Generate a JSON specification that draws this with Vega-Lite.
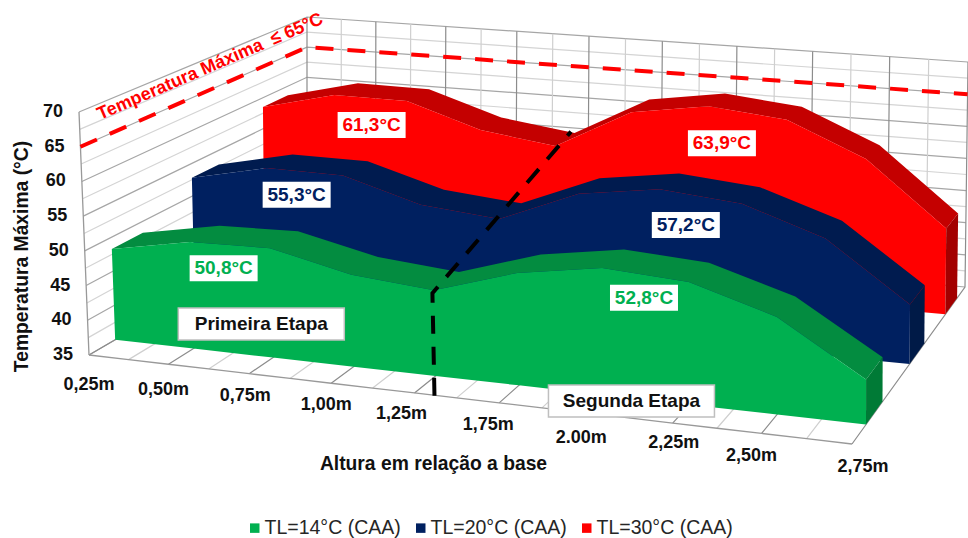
{
  "$schema": "https://vega.github.io/schema/vega-lite/v6.json",
  "width": 968,
  "height": 538,
  "padding": 0,
  "autosize": "none",
  "background": "white",
  "config": {"view": {"stroke": null}, "text": {"font": "Liberation Sans"}},
  "datasets": {
    "temperaturas": [
      {"altura": "0,25m", "i": 0, "serie": "TL=30°C (CAA)", "temp": 58.5},
      {"altura": "0,50m", "i": 1, "serie": "TL=30°C (CAA)", "temp": 61.3},
      {"altura": "0,75m", "i": 2, "serie": "TL=30°C (CAA)", "temp": 61.2},
      {"altura": "1,00m", "i": 3, "serie": "TL=30°C (CAA)", "temp": 57.5},
      {"altura": "1,25m", "i": 4, "serie": "TL=30°C (CAA)", "temp": 55.9},
      {"altura": "1,75m", "i": 5, "serie": "TL=30°C (CAA)", "temp": 62.1},
      {"altura": "2.00m", "i": 6, "serie": "TL=30°C (CAA)", "temp": 63.9},
      {"altura": "2,25m", "i": 7, "serie": "TL=30°C (CAA)", "temp": 62.7},
      {"altura": "2,50m", "i": 8, "serie": "TL=30°C (CAA)", "temp": 57.6},
      {"altura": "2,75m", "i": 9, "serie": "TL=30°C (CAA)", "temp": 48.0},
      {"altura": "0,25m", "i": 0, "serie": "TL=20°C (CAA)", "temp": 52.8},
      {"altura": "0,50m", "i": 1, "serie": "TL=20°C (CAA)", "temp": 55.3},
      {"altura": "0,75m", "i": 2, "serie": "TL=20°C (CAA)", "temp": 55.2},
      {"altura": "1,00m", "i": 3, "serie": "TL=20°C (CAA)", "temp": 51.8},
      {"altura": "1,25m", "i": 4, "serie": "TL=20°C (CAA)", "temp": 50.7},
      {"altura": "1,75m", "i": 5, "serie": "TL=20°C (CAA)", "temp": 55.5},
      {"altura": "2.00m", "i": 6, "serie": "TL=20°C (CAA)", "temp": 57.2},
      {"altura": "2,25m", "i": 7, "serie": "TL=20°C (CAA)", "temp": 56.1},
      {"altura": "2,50m", "i": 8, "serie": "TL=20°C (CAA)", "temp": 52.1},
      {"altura": "2,75m", "i": 9, "serie": "TL=20°C (CAA)", "temp": 43.6},
      {"altura": "0,25m", "i": 0, "serie": "TL=14°C (CAA)", "temp": 48.3},
      {"altura": "0,50m", "i": 1, "serie": "TL=14°C (CAA)", "temp": 50.5},
      {"altura": "0,75m", "i": 2, "serie": "TL=14°C (CAA)", "temp": 50.8},
      {"altura": "1,00m", "i": 3, "serie": "TL=14°C (CAA)", "temp": 48.2},
      {"altura": "1,25m", "i": 4, "serie": "TL=14°C (CAA)", "temp": 47.2},
      {"altura": "1,75m", "i": 5, "serie": "TL=14°C (CAA)", "temp": 50.9},
      {"altura": "2.00m", "i": 6, "serie": "TL=14°C (CAA)", "temp": 52.8},
      {"altura": "2,25m", "i": 7, "serie": "TL=14°C (CAA)", "temp": 52.1},
      {"altura": "2,50m", "i": 8, "serie": "TL=14°C (CAA)", "temp": 48.5},
      {"altura": "2,75m", "i": 9, "serie": "TL=14°C (CAA)", "temp": 41.2}
    ],
    "niveis": [
      {"nivel": 35}, {"nivel": 37.5}, {"nivel": 40}, {"nivel": 42.5}, {"nivel": 45}, {"nivel": 47.5}, {"nivel": 50}, {"nivel": 52.5},
      {"nivel": 55}, {"nivel": 57.5}, {"nivel": 60}, {"nivel": 62.5}, {"nivel": 65}, {"nivel": 67.5}, {"nivel": 70}
    ],
    "divisoes": [
      {"k": 0}, {"k": 1}, {"k": 2}, {"k": 3}, {"k": 4}, {"k": 5}, {"k": 6}, {"k": 7}, {"k": 8}, {"k": 9},
      {"k": 10}, {"k": 11}, {"k": 12}, {"k": 13}, {"k": 14}, {"k": 15}, {"k": 16}, {"k": 17}, {"k": 18}
    ],
    "valores": [
      {"texto": "61,3°C", "cor": "#FF0000", "u": 0.156, "v": 0.815, "temp": 56.8},
      {"texto": "63,9°C", "cor": "#FF0000", "u": 0.671, "v": 0.815, "temp": 58.4},
      {"texto": "55,3°C", "cor": "#002060", "u": 0.143, "v": 0.495, "temp": 51.5},
      {"texto": "57,2°C", "cor": "#002060", "u": 0.688, "v": 0.495, "temp": 52.4},
      {"texto": "50,8°C", "cor": "#00B050", "u": 0.148, "v": 0.12, "temp": 47.2},
      {"texto": "52,8°C", "cor": "#00B050", "u": 0.706, "v": 0.12, "temp": 49.3}
    ],
    "etapas": [
      {"texto": "Primeira Etapa", "u": 0.196, "v": 0.12, "temp": 39.7},
      {"texto": "Segunda Etapa", "u": 0.688, "v": 0.12, "temp": 34.66}
    ],
    "transicao": [
      {"ordem": 0, "u": 0.425, "v": 0.12, "temp": 32.2},
      {"ordem": 1, "u": 0.425, "v": 0.12, "temp": 46.8},
      {"ordem": 2, "u": 0.419, "v": 0.93, "temp": 55.9}
    ],
    "limite": [
      {"texto": "Temperatura Máxima  ≤ 65°C", "u": 0, "v": 0.575, "temp": 68.5}
    ]
  },
  "encoding": {
    "x": {"field": "px", "type": "quantitative", "scale": {"domain": [0, 968], "nice": false, "zero": false},
      "axis": {"title": "Altura em relação a base", "domain": false, "ticks": false, "labels": false, "grid": false, "titleX": 433, "titleY": -75, "titleFont": "Liberation Sans", "titleFontSize": 19.3, "titleFontWeight": "bold", "titleColor": "#111111", "titleAlign": "center", "titleBaseline": "middle"}},
    "y": {"field": "py", "type": "quantitative", "scale": {"domain": [538, 0], "nice": false, "zero": false},
      "axis": {"title": "Temperatura Máxima (°C)", "domain": false, "ticks": false, "labels": false, "grid": false, "titleX": 21, "titleY": 256, "titleAngle": -90, "titleFont": "Liberation Sans", "titleFontSize": 19.3, "titleFontWeight": "bold", "titleColor": "#111111", "titleAlign": "center", "titleBaseline": "middle"}}
  },
  "layer": [
    {
      "description": "Grade das paredes do fundo e da esquerda, a cada 2,5 graus",
      "data": {"name": "niveis"},
      "transform": [
        {"calculate": "[{ord:0,u:0,v:0},{ord:1,u:0,v:1},{ord:2,u:1,v:1}]", "as": "pts"},
        {"flatten": ["pts"]},
        {"calculate": "datum.pts.ord", "as": "ord"},
        {"calculate": "datum.pts.u", "as": "u"},
        {"calculate": "datum.pts.v", "as": "v"},
        {"calculate": "(datum.nivel-35)/35", "as": "z"},
        {"calculate": "(1-datum.z)*((1-datum.v)*((1-datum.u)*89+datum.u*852)+datum.v*((1-datum.u)*307+datum.u*965))+datum.z*((1-datum.v)*((1-datum.u)*79+datum.u*852)+datum.v*((1-datum.u)*307+datum.u*968))", "as": "px"},
        {"calculate": "(1-datum.z)*((1-datum.v)*((1-datum.u)*355+datum.u*444)+datum.v*((1-datum.u)*228+datum.u*287))+datum.z*((1-datum.v)*((1-datum.u)*112+datum.u*185)+datum.v*((1-datum.u)*17+datum.u*62))", "as": "py"},
        {"calculate": "datum.nivel%5==0?'#a6a6a6':'#d4d4d4'", "as": "traco"}
      ],
      "mark": {"type": "line", "strokeWidth": 1.2},
      "encoding": {
        "detail": {"field": "nivel"},
        "order": {"field": "ord"},
        "stroke": {"field": "traco", "type": "nominal", "scale": null}
      }
    },
    {
      "description": "Divisoes do piso e verticais da parede do fundo",
      "data": {"name": "divisoes"},
      "transform": [
        {"calculate": "datum.k/18", "as": "t"},
        {"calculate": "datum.t*0.93/(1-0.07*datum.t)", "as": "u"},
        {"calculate": "[{ord:0,v:0,z:0},{ord:1,v:1,z:0},{ord:2,v:1,z:1}]", "as": "pts"},
        {"flatten": ["pts"]},
        {"calculate": "datum.pts.ord", "as": "ord"},
        {"calculate": "datum.pts.v", "as": "v"},
        {"calculate": "datum.pts.z", "as": "z"},
        {"calculate": "(1-datum.z)*((1-datum.v)*((1-datum.u)*89+datum.u*852)+datum.v*((1-datum.u)*307+datum.u*965))+datum.z*((1-datum.v)*((1-datum.u)*79+datum.u*852)+datum.v*((1-datum.u)*307+datum.u*968))", "as": "px"},
        {"calculate": "(1-datum.z)*((1-datum.v)*((1-datum.u)*355+datum.u*444)+datum.v*((1-datum.u)*228+datum.u*287))+datum.z*((1-datum.v)*((1-datum.u)*112+datum.u*185)+datum.v*((1-datum.u)*17+datum.u*62))", "as": "py"},
        {"calculate": "datum.k%2==0?'#8c8c8c':'#cfcfcf'", "as": "traco"}
      ],
      "mark": {"type": "line", "strokeWidth": 1.2},
      "encoding": {
        "detail": {"field": "k"},
        "order": {"field": "ord"},
        "stroke": {"field": "traco", "type": "nominal", "scale": null}
      }
    },
    {
      "description": "Aresta frontal do piso",
      "data": {"name": "divisoes"},
      "transform": [
        {"calculate": "datum.k/18", "as": "t"},
        {"calculate": "datum.t*0.93/(1-0.07*datum.t)", "as": "u"},
        {"calculate": "89+763*datum.u", "as": "px"},
        {"calculate": "355+89*datum.u", "as": "py"}
      ],
      "mark": {"type": "line", "stroke": "#999999", "strokeWidth": 1.3},
      "encoding": {"order": {"field": "k"}}
    },
    {
      "description": "Aresta vertical do eixo de temperatura",
      "data": {"name": "niveis"},
      "transform": [
        {"calculate": "(datum.nivel-35)/35", "as": "z"},
        {"calculate": "89-10*datum.z", "as": "px"},
        {"calculate": "355-243*datum.z", "as": "py"}
      ],
      "mark": {"type": "line", "stroke": "#999999", "strokeWidth": 1.3},
      "encoding": {"order": {"field": "nivel"}}
    },
    {
      "description": "Linha do limite de 65 graus",
      "data": {"name": "niveis"},
      "transform": [
        {"filter": "datum.nivel==65"},
        {"calculate": "[{ord:0,u:0,v:0},{ord:1,u:0,v:1},{ord:2,u:1,v:1}]", "as": "pts"},
        {"flatten": ["pts"]},
        {"calculate": "datum.pts.ord", "as": "ord"},
        {"calculate": "datum.pts.u", "as": "u"},
        {"calculate": "datum.pts.v", "as": "v"},
        {"calculate": "(datum.nivel-35)/35", "as": "z"},
        {"calculate": "(1-datum.z)*((1-datum.v)*((1-datum.u)*89+datum.u*852)+datum.v*((1-datum.u)*307+datum.u*965))+datum.z*((1-datum.v)*((1-datum.u)*79+datum.u*852)+datum.v*((1-datum.u)*307+datum.u*968))", "as": "px"},
        {"calculate": "(1-datum.z)*((1-datum.v)*((1-datum.u)*355+datum.u*444)+datum.v*((1-datum.u)*228+datum.u*287))+datum.z*((1-datum.v)*((1-datum.u)*112+datum.u*185)+datum.v*((1-datum.u)*17+datum.u*62))", "as": "py"}
      ],
      "mark": {"type": "line", "stroke": "#FF0000", "strokeWidth": 4, "strokeDash": [18, 14]},
      "encoding": {"order": {"field": "ord"}}
    },
    {
      "description": "Faixas tridimensionais: topo, frente e lateral de cada serie, do fundo para a frente",
      "data": {"name": "temperaturas"},
      "transform": [
        {"calculate": "datum.i/9", "as": "t"},
        {"calculate": "datum.t*0.93/(1-0.07*datum.t)", "as": "u"},
        {"calculate": "(datum.temp-35)/35", "as": "zt"},
        {"calculate": "datum.serie=='TL=30°C (CAA)'?0.804+0.022*datum.u:datum.serie=='TL=20°C (CAA)'?0.484+0.026*datum.u:0.12+0.004*datum.u", "as": "vf"},
        {"calculate": "datum.serie=='TL=30°C (CAA)'?0.915+0.015*datum.u:datum.serie=='TL=20°C (CAA)'?0.605+0.035*datum.u:0.26+0.01*datum.u", "as": "vb"},
        {"calculate": "[{face:' topo',ord:datum.i,v:datum.vf,z:datum.zt},{face:' topo',ord:19-datum.i,v:datum.vb,z:datum.zt},{face:'',ord:datum.i,v:datum.vf,z:datum.zt},{face:'',ord:19-datum.i,v:datum.vf,z:0},{face:' lado',ord:0,v:datum.vf,z:datum.zt},{face:' lado',ord:1,v:datum.vf,z:0},{face:' lado',ord:2,v:datum.vb,z:0},{face:' lado',ord:3,v:datum.vb,z:datum.zt}]", "as": "pts"},
        {"flatten": ["pts"]},
        {"filter": "datum.pts.face!=' lado'||datum.i==9"},
        {"calculate": "datum.serie+datum.pts.face", "as": "tom"},
        {"calculate": "datum.pts.ord", "as": "ord"},
        {"calculate": "datum.pts.v", "as": "v"},
        {"calculate": "datum.pts.z", "as": "z"},
        {"calculate": "(1-datum.z)*((1-datum.v)*((1-datum.u)*89+datum.u*852)+datum.v*((1-datum.u)*307+datum.u*965))+datum.z*((1-datum.v)*((1-datum.u)*79+datum.u*852)+datum.v*((1-datum.u)*307+datum.u*968))", "as": "px"},
        {"calculate": "(1-datum.z)*((1-datum.v)*((1-datum.u)*355+datum.u*444)+datum.v*((1-datum.u)*228+datum.u*287))+datum.z*((1-datum.v)*((1-datum.u)*112+datum.u*185)+datum.v*((1-datum.u)*17+datum.u*62))", "as": "py"}
      ],
      "mark": {"type": "line", "strokeWidth": 0, "stroke": "transparent"},
      "encoding": {
        "detail": {"field": "tom"},
        "order": {"field": "ord"},
        "fill": {
          "field": "tom", "type": "nominal",
          "scale": {
            "domain": ["TL=14°C (CAA)", "TL=20°C (CAA)", "TL=30°C (CAA)", "TL=14°C (CAA) topo", "TL=20°C (CAA) topo", "TL=30°C (CAA) topo", "TL=14°C (CAA) lado", "TL=20°C (CAA) lado", "TL=30°C (CAA) lado"],
            "range": ["#00B050", "#002060", "#FF0000", "#038C40", "#001B4F", "#C40000", "#007A36", "#001A47", "#A30000"]
          },
          "legend": {
            "values": ["TL=14°C (CAA)", "TL=20°C (CAA)", "TL=30°C (CAA)"],
            "orient": "none", "legendX": 245, "legendY": 518, "direction": "horizontal", "columns": 3, "title": null,
            "symbolType": "square", "symbolSize": 90, "symbolStrokeWidth": 0, "labelFont": "Liberation Sans", "labelFontSize": 19.5, "labelColor": "#262626", "labelOffset": 0, "columnPadding": 10
          }
        }
      }
    },
    {
      "description": "Linha tracejada entre a primeira e a segunda etapa",
      "data": {"name": "transicao"},
      "transform": [
        {"calculate": "(datum.temp-35)/35", "as": "z"},
        {"calculate": "(1-datum.z)*((1-datum.v)*((1-datum.u)*89+datum.u*852)+datum.v*((1-datum.u)*307+datum.u*965))+datum.z*((1-datum.v)*((1-datum.u)*79+datum.u*852)+datum.v*((1-datum.u)*307+datum.u*968))", "as": "px"},
        {"calculate": "(1-datum.z)*((1-datum.v)*((1-datum.u)*355+datum.u*444)+datum.v*((1-datum.u)*228+datum.u*287))+datum.z*((1-datum.v)*((1-datum.u)*112+datum.u*185)+datum.v*((1-datum.u)*17+datum.u*62))", "as": "py"}
      ],
      "mark": {"type": "line", "stroke": "#000000", "strokeWidth": 4, "strokeDash": [18, 13]},
      "encoding": {"order": {"field": "ordem"}}
    },
    {
      "description": "Rotulos de temperatura maxima",
      "data": {"name": "valores"},
      "transform": [
        {"calculate": "(datum.temp-35)/35", "as": "z"},
        {"calculate": "(1-datum.z)*((1-datum.v)*((1-datum.u)*89+datum.u*852)+datum.v*((1-datum.u)*307+datum.u*965))+datum.z*((1-datum.v)*((1-datum.u)*79+datum.u*852)+datum.v*((1-datum.u)*307+datum.u*968))", "as": "px"},
        {"calculate": "(1-datum.z)*((1-datum.v)*((1-datum.u)*355+datum.u*444)+datum.v*((1-datum.u)*228+datum.u*287))+datum.z*((1-datum.v)*((1-datum.u)*112+datum.u*185)+datum.v*((1-datum.u)*17+datum.u*62))", "as": "py"}
      ],
      "layer": [
        {"mark": {"type": "rect", "width": 68, "height": 26, "fill": "white"}},
        {"mark": {"type": "text", "fontSize": 19, "fontWeight": "bold", "align": "center", "baseline": "middle"},
          "encoding": {"text": {"field": "texto"}, "color": {"field": "cor", "type": "nominal", "scale": null}}}
      ]
    },
    {
      "description": "Caixas das duas etapas do ensaio",
      "data": {"name": "etapas"},
      "transform": [
        {"calculate": "(datum.temp-35)/35", "as": "z"},
        {"calculate": "(1-datum.z)*((1-datum.v)*((1-datum.u)*89+datum.u*852)+datum.v*((1-datum.u)*307+datum.u*965))+datum.z*((1-datum.v)*((1-datum.u)*79+datum.u*852)+datum.v*((1-datum.u)*307+datum.u*968))", "as": "px"},
        {"calculate": "(1-datum.z)*((1-datum.v)*((1-datum.u)*355+datum.u*444)+datum.v*((1-datum.u)*228+datum.u*287))+datum.z*((1-datum.v)*((1-datum.u)*112+datum.u*185)+datum.v*((1-datum.u)*17+datum.u*62))", "as": "py"}
      ],
      "layer": [
        {"mark": {"type": "rect", "width": 166, "height": 32, "fill": "white", "stroke": "#bfbfbf", "strokeWidth": 1.5}},
        {"mark": {"type": "text", "fontSize": 19, "fontWeight": "bold", "align": "center", "baseline": "middle", "color": "#111111"},
          "encoding": {"text": {"field": "texto"}}}
      ]
    },
    {
      "description": "Legenda do limite sobre a parede esquerda",
      "data": {"name": "limite"},
      "transform": [
        {"calculate": "replace(datum.texto,'  ','\u00a0\u00a0')", "as": "rotulo"},
        {"calculate": "(datum.temp-35)/35", "as": "z"},
        {"calculate": "(1-datum.z)*((1-datum.v)*((1-datum.u)*89+datum.u*852)+datum.v*((1-datum.u)*307+datum.u*965))+datum.z*((1-datum.v)*((1-datum.u)*79+datum.u*852)+datum.v*((1-datum.u)*307+datum.u*968))", "as": "px"},
        {"calculate": "(1-datum.z)*((1-datum.v)*((1-datum.u)*355+datum.u*444)+datum.v*((1-datum.u)*228+datum.u*287))+datum.z*((1-datum.v)*((1-datum.u)*112+datum.u*185)+datum.v*((1-datum.u)*17+datum.u*62))", "as": "py"}
      ],
      "mark": {"type": "text", "fontSize": 18, "fontWeight": "bold", "color": "#FF0000", "angle": 336.6, "align": "center", "baseline": "middle"},
      "encoding": {"text": {"field": "rotulo"}}
    },
    {
      "description": "Rotulos do eixo de temperatura",
      "data": {"name": "niveis"},
      "transform": [
        {"filter": "datum.nivel%5==0"},
        {"calculate": "(datum.nivel-35)/35", "as": "z"},
        {"calculate": "89-10*datum.z", "as": "px"},
        {"calculate": "355-243*datum.z", "as": "py"}
      ],
      "mark": {"type": "text", "fontSize": 18, "fontWeight": "bold", "color": "#111111", "align": "center", "baseline": "middle", "dx": -26},
      "encoding": {"text": {"field": "nivel", "type": "quantitative", "format": "d"}}
    },
    {
      "description": "Rotulos do eixo de altura, com os ajustes manuais de posicao de cada um",
      "data": {"name": "temperaturas"},
      "transform": [
        {"filter": "datum.serie=='TL=14°C (CAA)'"},
        {"calculate": "datum.i/9", "as": "t"},
        {"calculate": "datum.t*0.93/(1-0.07*datum.t)", "as": "u"},
        {"calculate": "89+763*datum.u+[0,-5,-4,-5,-13,-11,-4,1,-10,11][datum.i]", "as": "px"},
        {"calculate": "355+83*datum.u+[1,-3,-5,-5,-5,-4,0,-4,-1,0][datum.i]", "as": "py"}
      ],
      "mark": {"type": "text", "fontSize": 18, "fontWeight": "bold", "color": "#111111", "align": "center", "baseline": "middle", "dy": 29},
      "encoding": {"text": {"field": "altura"}}
    }
  ]
}
